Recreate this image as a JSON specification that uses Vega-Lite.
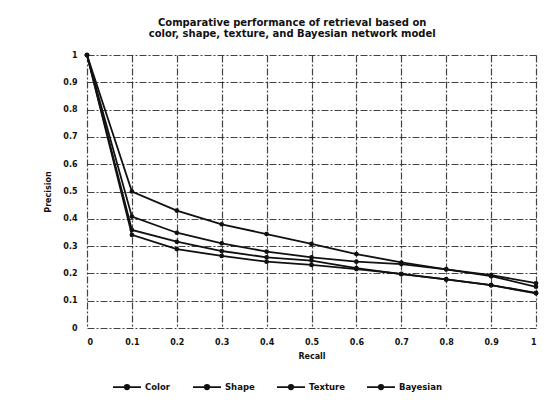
{
  "$schema": "https://vega.github.io/schema/vega-lite/v6.json",
  "width": 449,
  "height": 273,
  "autosize": {"type": "none"},
  "padding": {"left": 87, "top": 55, "right": 15, "bottom": 74},
  "background": "#ffffff",
  "title": {
    "text": ["Comparative performance of retrieval based on", "color, shape, texture, and Bayesian network model"],
    "anchor": "middle",
    "frame": "bounds",
    "font": "DejaVu Sans",
    "fontSize": 10,
    "fontWeight": "bold",
    "color": "#111111",
    "lineHeight": 11,
    "offset": 12
  },
  "data": {
    "values": [
      {"recall": 0, "precision": 1, "method": "Color"},
      {"recall": 0.1, "precision": 0.408, "method": "Color"},
      {"recall": 0.2, "precision": 0.349, "method": "Color"},
      {"recall": 0.3, "precision": 0.31, "method": "Color"},
      {"recall": 0.4, "precision": 0.28, "method": "Color"},
      {"recall": 0.5, "precision": 0.259, "method": "Color"},
      {"recall": 0.6, "precision": 0.243, "method": "Color"},
      {"recall": 0.7, "precision": 0.234, "method": "Color"},
      {"recall": 0.8, "precision": 0.215, "method": "Color"},
      {"recall": 0.9, "precision": 0.19, "method": "Color"},
      {"recall": 1, "precision": 0.151, "method": "Color"},
      {"recall": 0, "precision": 1, "method": "Shape"},
      {"recall": 0.1, "precision": 0.359, "method": "Shape"},
      {"recall": 0.2, "precision": 0.316, "method": "Shape"},
      {"recall": 0.3, "precision": 0.282, "method": "Shape"},
      {"recall": 0.4, "precision": 0.259, "method": "Shape"},
      {"recall": 0.5, "precision": 0.247, "method": "Shape"},
      {"recall": 0.6, "precision": 0.219, "method": "Shape"},
      {"recall": 0.7, "precision": 0.197, "method": "Shape"},
      {"recall": 0.8, "precision": 0.178, "method": "Shape"},
      {"recall": 0.9, "precision": 0.157, "method": "Shape"},
      {"recall": 1, "precision": 0.129, "method": "Shape"},
      {"recall": 0, "precision": 1, "method": "Texture"},
      {"recall": 0.1, "precision": 0.341, "method": "Texture"},
      {"recall": 0.2, "precision": 0.289, "method": "Texture"},
      {"recall": 0.3, "precision": 0.264, "method": "Texture"},
      {"recall": 0.4, "precision": 0.243, "method": "Texture"},
      {"recall": 0.5, "precision": 0.231, "method": "Texture"},
      {"recall": 0.6, "precision": 0.216, "method": "Texture"},
      {"recall": 0.7, "precision": 0.198, "method": "Texture"},
      {"recall": 0.8, "precision": 0.178, "method": "Texture"},
      {"recall": 0.9, "precision": 0.157, "method": "Texture"},
      {"recall": 1, "precision": 0.127, "method": "Texture"},
      {"recall": 0, "precision": 1, "method": "Bayesian"},
      {"recall": 0.1, "precision": 0.5, "method": "Bayesian"},
      {"recall": 0.2, "precision": 0.43, "method": "Bayesian"},
      {"recall": 0.3, "precision": 0.38, "method": "Bayesian"},
      {"recall": 0.4, "precision": 0.344, "method": "Bayesian"},
      {"recall": 0.5, "precision": 0.308, "method": "Bayesian"},
      {"recall": 0.6, "precision": 0.271, "method": "Bayesian"},
      {"recall": 0.7, "precision": 0.24, "method": "Bayesian"},
      {"recall": 0.8, "precision": 0.215, "method": "Bayesian"},
      {"recall": 0.9, "precision": 0.194, "method": "Bayesian"},
      {"recall": 1, "precision": 0.164, "method": "Bayesian"}
    ]
  },
  "mark": {"type": "line", "strokeWidth": 1.8, "point": {"filled": true, "size": 22}},
  "encoding": {
    "x": {
      "field": "recall",
      "type": "quantitative",
      "title": "Recall",
      "scale": {"domain": [0, 1], "nice": false, "zero": false},
      "axis": {"values": [0, 0.1, 0.2, 0.3, 0.4, 0.5, 0.6, 0.7, 0.8, 0.9, 1], "format": "~g"}
    },
    "y": {
      "field": "precision",
      "type": "quantitative",
      "title": "Precision",
      "scale": {"domain": [0, 1], "nice": false},
      "axis": {"values": [0, 0.1, 0.2, 0.3, 0.4, 0.5, 0.6, 0.7, 0.8, 0.9, 1], "format": "~g"}
    },
    "color": {
      "field": "method",
      "type": "nominal",
      "sort": ["Color", "Shape", "Texture", "Bayesian"],
      "scale": {"domain": ["Color", "Shape", "Texture", "Bayesian"], "range": ["#111111", "#111111", "#111111", "#111111"]},
      "legend": {
        "title": null,
        "orient": "none",
        "direction": "horizontal",
        "legendX": 25,
        "legendY": 317,
        "symbolType": "M-1,0L1,0M0.16,0A0.16,0.16 0 1,1 -0.16,0A0.16,0.16 0 1,1 0.16,0",
        "symbolSize": 784,
        "symbolStrokeWidth": 1.8,
        "symbolFillColor": "#111111",
        "symbolStrokeColor": "#111111",
        "labelFont": "DejaVu Sans",
        "labelFontSize": 8.5,
        "labelFontWeight": "bold",
        "labelColor": "#111111",
        "columnPadding": 18,
        "labelOffset": 3
      }
    }
  },
  "config": {
    "view": {"stroke": null},
    "axis": {
      "domain": false,
      "ticks": false,
      "grid": true,
      "gridColor": "#222222",
      "gridDash": [7, 2, 2, 2],
      "gridWidth": 1.2,
      "gridOpacity": 0.85,
      "labelFont": "DejaVu Sans",
      "labelFontSize": 8,
      "labelFontWeight": "bold",
      "labelColor": "#111111",
      "labelPadding": 10,
      "titleFont": "DejaVu Sans",
      "titleFontSize": 8,
      "titleFontWeight": "bold",
      "titleColor": "#111111"
    },
    "axisX": {"titlePadding": 6},
    "axisY": {"titlePadding": 10}
  }
}
